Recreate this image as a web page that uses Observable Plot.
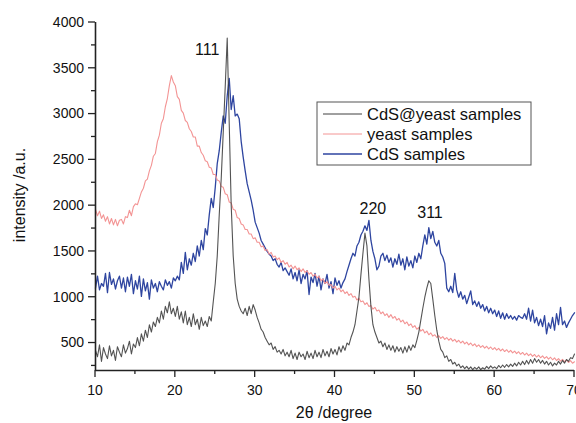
<!DOCTYPE html>
<html>
<head>
<meta charset="utf-8">
<script src="https://cdn.jsdelivr.net/npm/d3@7"></script>
<script src="https://cdn.jsdelivr.net/npm/@observablehq/plot@0.6"></script>
<style>
  html, body { margin: 0; padding: 0; background: #fff; }
  #chart { width: 576px; height: 423px; }
  svg { font-family: "Liberation Sans", Arial, sans-serif; }
</style>
</head>
<body>
<div id="chart"></div>
<script>
// 2θ grid: readings every 0.25° from 10° to 70°
const thetaStart = 10;
const thetaStep = 0.25;

// One row per degree: values at x, x+0.25, x+0.5, x+0.75
const cdsYeastRows = [
  [420, 350, 480, 300], [450, 380, 330, 470], [360, 420, 310, 460], [400, 350, 480, 390],
  [440, 520, 380, 490], [450, 560, 470, 600], [520, 640, 560, 700], [620, 730, 680, 780],
  [720, 850, 760, 900], [830, 950, 820, 880], [790, 900, 760, 840], [720, 850, 700, 780],
  [680, 820, 700, 760], [650, 780, 690, 740], [680, 790, 740, 950], [1150, 1450, 1900, 2300],
  [2800, 3300, 3830, 2900], [2000, 1450, 1150, 980], [900, 850, 820, 880], [800, 900, 820, 920],
  [860, 780, 720, 650], [620, 560, 520, 480], [500, 430, 460, 400], [420, 380, 430, 360],
  [400, 350, 420, 330], [390, 320, 400, 350], [380, 320, 410, 340], [390, 330, 420, 350],
  [400, 340, 430, 360], [410, 350, 440, 380], [430, 370, 460, 400], [470, 420, 500, 480],
  [560, 620, 700, 850], [1000, 1250, 1480, 1700], [1560, 1200, 900, 700], [620, 560, 500, 520],
  [460, 500, 430, 480], [420, 470, 400, 460], [410, 450, 390, 460], [400, 470, 420, 480],
  [450, 530, 620, 750], [880, 1000, 1100, 1180], [1150, 980, 800, 640], [520, 430, 400, 340],
  [360, 300, 320, 270], [290, 250, 270, 230], [250, 220, 245, 215], [240, 210, 235, 215],
  [240, 210, 230, 215], [245, 220, 250, 225], [240, 220, 255, 230], [260, 235, 265, 240],
  [270, 245, 280, 250], [290, 260, 300, 265], [310, 270, 320, 280], [330, 290, 320, 280],
  [310, 270, 300, 260], [290, 250, 280, 260], [300, 270, 310, 280], [320, 300, 340, 330],
  [380]
];

const yeastRows = [
  [1960, 1890, 1940, 1860], [1900, 1830, 1880, 1800], [1860, 1790, 1850, 1780], [1840, 1850, 1800, 1880],
  [1870, 1950, 1890, 1990], [2020, 2010, 2080, 2150], [2190, 2270, 2290, 2380], [2440, 2540, 2570, 2700],
  [2770, 2900, 2950, 3080], [3170, 3310, 3420, 3350], [3310, 3190, 3160, 3040], [3010, 2930, 2910, 2840],
  [2810, 2750, 2750, 2650], [2650, 2580, 2550, 2490], [2480, 2420, 2410, 2340], [2340, 2280, 2270, 2210],
  [2200, 2130, 2120, 2040], [2030, 1960, 1950, 1870], [1860, 1800, 1790, 1740], [1740, 1690, 1690, 1640],
  [1650, 1600, 1600, 1550], [1560, 1510, 1520, 1470], [1490, 1440, 1450, 1410], [1430, 1380, 1400, 1360],
  [1380, 1330, 1350, 1310], [1340, 1300, 1320, 1280], [1310, 1270, 1290, 1250], [1270, 1230, 1250, 1210],
  [1230, 1180, 1200, 1150], [1170, 1130, 1140, 1100], [1120, 1080, 1100, 1060], [1080, 1040, 1060, 1020],
  [1040, 1000, 1010, 970], [990, 950, 960, 920], [940, 900, 910, 870], [890, 850, 860, 820],
  [840, 800, 820, 780], [810, 770, 790, 750], [770, 730, 750, 710], [730, 690, 710, 670],
  [690, 650, 670, 630], [650, 610, 630, 590], [610, 575, 590, 560], [580, 550, 570, 540],
  [560, 530, 550, 520], [540, 510, 530, 500], [520, 490, 510, 480], [500, 470, 490, 460],
  [480, 452, 472, 444], [465, 437, 457, 429], [450, 422, 442, 414], [435, 407, 427, 399],
  [420, 392, 412, 384], [405, 377, 397, 369], [390, 362, 382, 354], [375, 347, 367, 339],
  [360, 332, 352, 324], [345, 317, 337, 309], [330, 302, 322, 294], [315, 287, 307, 280],
  [295]
];

const cdsRows = [
  [1100, 1230, 1080, 1150], [1120, 1260, 1050, 1270], [1140, 1200, 1090, 1180], [1230, 1100, 1210, 1060],
  [1220, 1120, 1250, 1040], [1180, 1090, 1230, 1010], [1200, 1070, 1160, 980], [1190, 1100, 1150, 1060],
  [1170, 1120, 1080, 1190], [1130, 1170, 1100, 1210], [1180, 1230, 1190, 1380], [1260, 1490, 1300, 1420],
  [1350, 1480, 1390, 1560], [1450, 1620, 1520, 1750], [1680, 1900, 2080, 1980], [2200, 2460, 2600, 2800],
  [2980, 2900, 3200, 3390], [3050, 3200, 2980, 3000], [2950, 2700, 2530, 2380], [2240, 2150, 2060, 1950],
  [1820, 1760, 1700, 1620], [1580, 1540, 1500, 1470], [1450, 1400, 1420, 1360], [1330, 1380, 1290, 1320],
  [1280, 1240, 1310, 1200], [1270, 1180, 1300, 1150], [1250, 1200, 1290, 1030], [1220, 1160, 1260, 1120],
  [1230, 1080, 1200, 1150], [1250, 1100, 1170, 1040], [1210, 1130, 1180, 1100], [1160, 1200, 1280, 1350],
  [1420, 1480, 1450, 1560], [1600, 1680, 1720, 1780], [1730, 1840, 1620, 1500], [1420, 1300, 1340, 1450],
  [1480, 1400, 1460, 1380], [1430, 1330, 1420, 1360], [1470, 1350, 1420, 1300], [1440, 1340, 1400, 1320],
  [1450, 1380, 1480, 1420], [1560, 1680, 1580, 1760], [1640, 1720, 1600, 1560], [1620, 1480, 1440, 1370],
  [1100, 1060, 1120, 1050], [1260, 1080, 1000, 1060], [980, 1020, 930, 1000], [1070, 920, 960, 900],
  [950, 880, 920, 850], [900, 830, 880, 820], [860, 790, 850, 770], [830, 760, 820, 770],
  [800, 760, 790, 750], [800, 780, 770, 820], [760, 880, 740, 860], [720, 780, 690, 760],
  [680, 800, 600, 720], [660, 780, 640, 820], [700, 890, 700, 740], [670, 720, 760, 800],
  [830]
];

const seriesNames = ["CdS@yeast samples", "yeast samples", "CdS samples"];
const seriesColors = ["#404040", "#f39494", "#2e45a0"];

const yTicks = [500, 1000, 1500, 2000, 2500, 3000, 3500, 4000];
const yMinorTicks = [250, 750, 1250, 1750, 2250, 2750, 3250, 3750];
const xTicks = [10, 20, 30, 40, 50, 60, 70];
const xMinorTicks = [15, 25, 35, 45, 55, 65];

const peakLabels = [
  {label: "111", x: 24.0, y: 3700},
  {label: "220", x: 44.75, y: 1960},
  {label: "311", x: 51.9, y: 1920}
];

function toSeries(rows) {
  return rows.flat().map((v, i) => ({x: thetaStart + i * thetaStep, y: v}));
}
const cdsYeast = toSeries(cdsYeastRows);
const yeast = toSeries(yeastRows);
const cds = toSeries(cdsRows);

const font = "Liberation Sans, Arial, sans-serif";

const plot = Plot.plot({
  width: 576,
  height: 423,
  marginLeft: 95,
  marginRight: 2,
  marginTop: 22,
  marginBottom: 53,
  style: {fontFamily: font, background: "#fff", overflow: "visible"},
  x: {domain: [10, 70], axis: null},
  y: {domain: [200, 4000], axis: null},
  marks: [
    Plot.line(cds, {x: "x", y: "y", stroke: seriesColors[2], strokeWidth: 1.3}),
    Plot.line(yeast, {x: "x", y: "y", stroke: seriesColors[1], strokeWidth: 1.1}),
    Plot.line(cdsYeast, {x: "x", y: "y", stroke: seriesColors[0], strokeWidth: 1.1, strokeOpacity: 0.9}),
    Plot.ruleX([10], {stroke: "#222", strokeWidth: 1.6}),
    Plot.ruleY([200], {stroke: "#222", strokeWidth: 1.6}),
    Plot.text(peakLabels, {x: "x", y: "y", text: "label", fontSize: 16, fill: "#111"})
  ]
});

document.getElementById("chart").appendChild(plot);

const sx = plot.scale("x");
const sy = plot.scale("y");
const svg = d3.select(plot);
const x0px = sx.apply(10);
const y0px = sy.apply(200);

const axes = svg.append("g").attr("stroke", "#222").attr("stroke-width", 1.3);
// y ticks
yTicks.forEach(v => {
  const py = sy.apply(v);
  axes.append("line").attr("x1", x0px - 7).attr("x2", x0px).attr("y1", py).attr("y2", py);
  svg.append("text").attr("x", x0px - 11).attr("y", py).attr("dy", "0.35em")
    .attr("text-anchor", "end").attr("font-size", 14).attr("fill", "#111").text(String(v));
});
yMinorTicks.forEach(v => {
  const py = sy.apply(v);
  axes.append("line").attr("x1", x0px - 4).attr("x2", x0px).attr("y1", py).attr("y2", py);
});
// x ticks
xTicks.forEach(v => {
  const px = sx.apply(v);
  axes.append("line").attr("x1", px).attr("x2", px).attr("y1", y0px).attr("y2", y0px + 7);
  svg.append("text").attr("x", px).attr("y", y0px + 20).attr("dy", "0.35em")
    .attr("text-anchor", "middle").attr("font-size", 14).attr("fill", "#111").text(String(v));
});
xMinorTicks.forEach(v => {
  const px = sx.apply(v);
  axes.append("line").attr("x1", px).attr("x2", px).attr("y1", y0px).attr("y2", y0px + 4);
});

// axis titles
svg.append("text")
  .attr("transform", "translate(25,195) rotate(-90)")
  .attr("text-anchor", "middle")
  .attr("font-size", 16)
  .attr("fill", "#111")
  .text("intensity /a.u.");
svg.append("text")
  .attr("x", 334).attr("y", 418)
  .attr("text-anchor", "middle")
  .attr("font-size", 16)
  .attr("fill", "#111")
  .text("2θ /degree");

// legend box
const lg = svg.append("g");
lg.append("rect")
  .attr("x", 317).attr("y", 102).attr("width", 214).attr("height", 63)
  .attr("fill", "#fff").attr("stroke", "#555").attr("stroke-width", 1);
seriesNames.forEach((name, i) => {
  const cy = 114 + i * 20;
  lg.append("line").attr("x1", 323).attr("x2", 362).attr("y1", cy).attr("y2", cy)
    .attr("stroke", seriesColors[i]).attr("stroke-width", i === 2 ? 1.3 : 1);
  lg.append("text").attr("x", 367).attr("y", cy).attr("dy", "0.35em")
    .attr("text-anchor", "start")
    .attr("font-size", 16.5).attr("fill", "#111").text(name);
});
</script>
</body>
</html>
